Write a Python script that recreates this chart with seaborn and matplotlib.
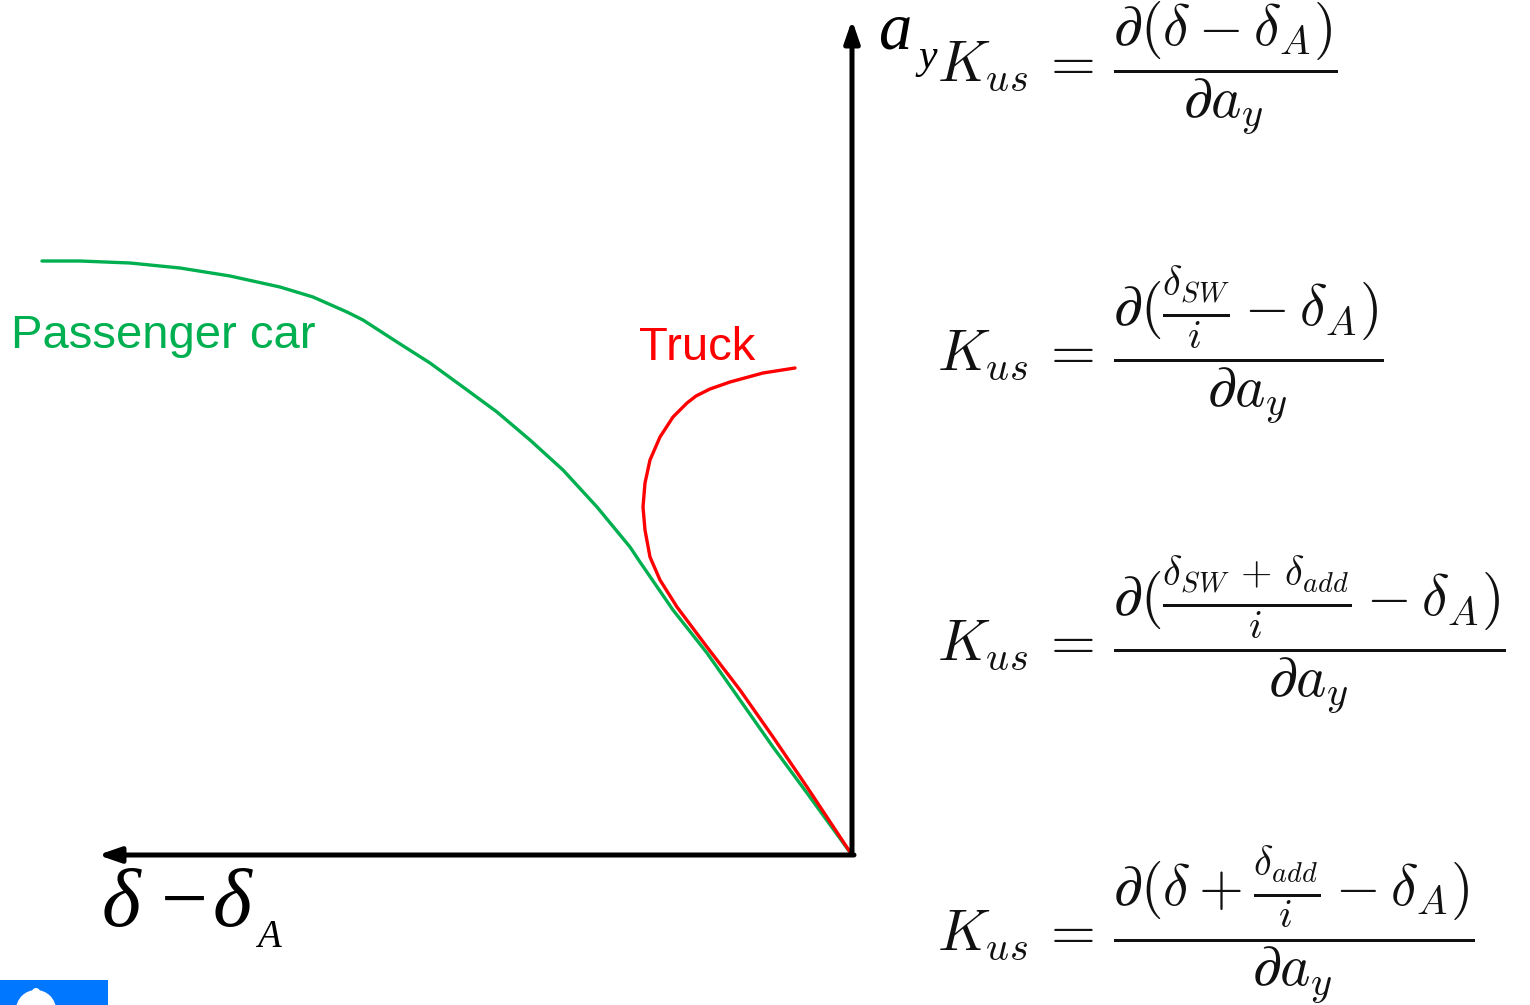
import matplotlib
matplotlib.use("Agg")
import matplotlib.pyplot as plt
import seaborn as sns
import pandas as pd

# Steering gradient vs lateral acceleration (x: delta - delta_A, y: a_y)
car_x = [8.10, 7.72, 7.22, 6.72, 6.22, 5.72, 5.39, 5.05, 4.89, 4.55, 4.22, 3.89, 3.55,
         3.22, 2.89, 2.55, 2.22, 2.12, 1.79, 1.45, 1.12, 0.79, 0.45, 0.0]
car_y = [5.94, 5.94, 5.92, 5.87, 5.79, 5.68, 5.58, 5.43, 5.35, 5.13, 4.92, 4.68, 4.43,
         4.15, 3.85, 3.48, 3.08, 2.93, 2.45, 2.02, 1.55, 1.08, 0.62, 0.0]

truck_x = [0.0, 0.45, 0.79, 1.12, 1.45, 1.75, 1.92, 2.02, 2.07, 2.09, 2.07, 2.02, 1.92,
           1.79, 1.65, 1.56, 1.42, 1.22, 0.89, 0.57]
truck_y = [0.0, 0.68, 1.18, 1.65, 2.08, 2.48, 2.75, 2.98, 3.25, 3.48, 3.72, 3.95, 4.18,
           4.38, 4.52, 4.59, 4.66, 4.73, 4.82, 4.87]

series_labels = ["Passenger car", "Truck"]
series_colors = ["#00B050", "#FF0000"]

formulas = [
    r"$K_{us}\,=\,\dfrac{\partial(\delta-\delta_A)}{\partial a_y}$",
    r"$K_{us}\,=\,\dfrac{\partial(\frac{\delta_{SW}}{i}-\delta_A)}{\partial a_y}$",
    r"$K_{us}\,=\,\dfrac{\partial(\frac{\delta_{SW}\,+\,\delta_{add}}{i}-\delta_A)}{\partial a_y}$",
    r"$K_{us}\,=\,\dfrac{\partial(\delta+\frac{\delta_{add}}{i}-\delta_A)}{\partial a_y}$",
]
formula_rows = [68, 346, 636, 925]

sns.set_theme(style="white")
plt.rcParams["mathtext.fontset"] = "cm"
plt.rcParams["text.color"] = "black"

W, H = 1530, 1005
fig = plt.figure(figsize=(W / 100, H / 100), dpi=100)
ax = fig.add_axes([0, 0, 1, 1])
ox, oy = 852, 855  # origin in pixels
ax.set_xlim(ox / 100, (ox - W) / 100)
ax.set_ylim((oy - H) / 100, oy / 100)
ax.axis("off")


def pos(px, py):
    return ((ox - px) / 100, (oy - py) / 100)


df = pd.concat([
    pd.DataFrame({"x": car_x, "y": car_y, "s": series_labels[0]}),
    pd.DataFrame({"x": truck_x, "y": truck_y, "s": series_labels[1]}),
])
for lab, col in zip(series_labels, series_colors):
    sub = df[df["s"] == lab]
    sns.lineplot(data=sub, x="x", y="y", sort=False, estimator=None, color=col,
                 lw=2.4, ax=ax, legend=False, solid_joinstyle="round",
                 solid_capstyle="round")

# Axes arrows
arrow = dict(arrowstyle="-|>,head_length=1.1,head_width=0.38", color="black", lw=3.6,
             shrinkA=0, shrinkB=0)
ax.annotate("", xy=pos(852, 20), xytext=(0, 0.02), arrowprops=arrow)
ax.annotate("", xy=pos(98, 855), xytext=(-0.02, 0), arrowprops=arrow)

# Series labels
ax.text(*pos(11, 336), "Passenger car", color=series_colors[0], fontsize=34,
        family="Liberation Sans", ha="left", va="center")
ax.text(*pos(639, 348), "Truck", color=series_colors[1], fontsize=34,
        family="Liberation Sans", ha="left", va="center")

# Axis names
ax.text(*pos(878, 48), "a", fontsize=48, family="Liberation Serif", style="italic",
        ha="left", va="baseline", color="black")
ax.text(*pos(918, 68), "y", fontsize=30, family="Liberation Serif", style="italic",
        ha="left", va="baseline", color="black")
ax.text(*pos(102, 926), "\u03b4", fontsize=60, family="Liberation Serif",
        style="italic", ha="left", va="baseline", color="black")
ax.text(*pos(161, 926), "\u2212", fontsize=60, family="Liberation Serif",
        ha="left", va="baseline", color="black")
ax.text(*pos(213, 926), "\u03b4", fontsize=60, family="Liberation Serif",
        style="italic", ha="left", va="baseline", color="black")
ax.text(*pos(257, 947), "A", fontsize=28, family="Liberation Serif", style="italic",
        ha="left", va="baseline", color="black")

for f, row in zip(formulas, formula_rows):
    ax.text(*pos(937, row), f, fontsize=41.5, ha="left", va="center", color="#111111")

# Blue badge in the corner
ax.add_patch(plt.Rectangle(pos(108, 1005), 1.08, 0.25, color="#0077FF", lw=0, clip_on=False))
ax.add_patch(plt.Circle(pos(36, 992), 0.04, color="white", lw=0))
ax.add_patch(matplotlib.patches.Wedge(pos(36, 1010), 0.2, 0, 180, color="white", lw=0))

fig.savefig("out.png", dpi=100)
